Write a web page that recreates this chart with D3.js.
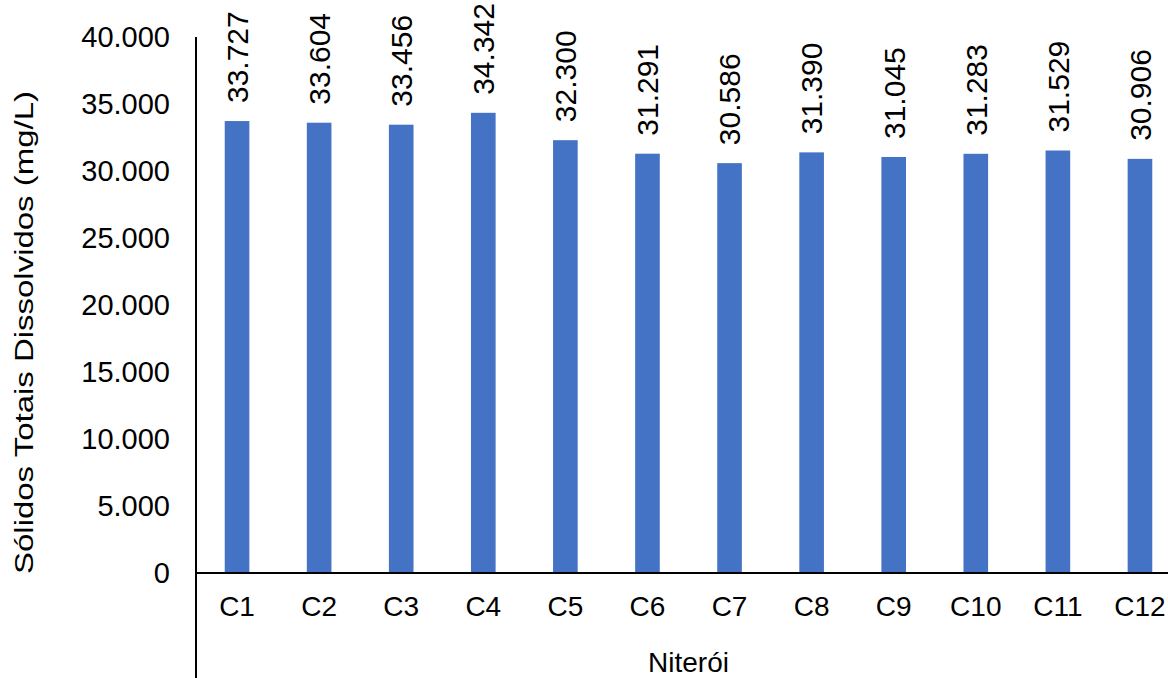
<!DOCTYPE html>
<html><head><meta charset="utf-8">
<script src="https://cdn.jsdelivr.net/npm/d3@7"></script>
<style>body{margin:0;background:#fff}svg{display:block}text{font-family:"Liberation Sans",Arial,sans-serif;fill:#000}</style>
</head><body>
<svg id="c" width="1168" height="678"></svg>
<script>
const categories = ["C1","C2","C3","C4","C5","C6","C7","C8","C9","C10","C11","C12"];
const values = [33727, 33604, 33456, 34342, 32300, 31291, 30586, 31390, 31045, 31283, 31529, 30906];
const yTicks = [0, 5000, 10000, 15000, 20000, 25000, 30000, 35000, 40000];
const yTitle = "Sólidos Totais Dissolvidos (mg/L)";
const xTitle = "Niterói";

const loc = d3.formatLocale({decimal: ",", thousands: ".", grouping: [3], currency: ["R$", ""]});
const fmt = loc.format(",d");

const svg = d3.select("#c");
const mLeft = 196, mRight = 1181, mTop = 37, mBottom = 573;

const x = d3.scaleBand().domain(categories).range([mLeft, mRight]).paddingInner(0.7).paddingOuter(0.35);
const y = d3.scaleLinear().domain([0, 40000]).range([mBottom, mTop]);

svg.append("g").selectAll("rect").data(values).join("rect")
  .attr("x", (d, i) => x(categories[i]))
  .attr("width", x.bandwidth())
  .attr("y", d => y(d))
  .attr("height", d => y(0) - y(d))
  .attr("fill", "#4472C4");

// y axis labels
const yAxis = d3.axisLeft(y).tickValues(yTicks).tickFormat(d => fmt(d)).tickSize(0).tickPadding(26);
const gy = svg.append("g").attr("transform", `translate(${mLeft},0)`).call(yAxis);
gy.select(".domain").remove();
gy.selectAll("text").style("font-size", "29px").attr("font-family", "Liberation Sans, Arial, sans-serif");

// axis lines
svg.append("line").attr("x1", mLeft).attr("x2", mLeft).attr("y1", mTop).attr("y2", 678).attr("stroke", "#000").attr("stroke-width", 2);
svg.append("line").attr("x1", mLeft).attr("x2", 1168).attr("y1", mBottom).attr("y2", mBottom).attr("stroke", "#000").attr("stroke-width", 2);

// x axis labels
const xAxis = d3.axisBottom(x).tickSize(0).tickPadding(23);
const gx = svg.append("g").attr("transform", `translate(0,${mBottom})`).call(xAxis);
gx.select(".domain").remove();
gx.selectAll("text").style("font-size", "28px").attr("font-family", "Liberation Sans, Arial, sans-serif");

// data labels
svg.append("g").selectAll("text").data(values).join("text")
  .attr("transform", (d, i) => `translate(${x(categories[i]) + x.bandwidth()/2},${y(d) - 18}) rotate(-90)`)
  .attr("dy", "0.36em")
  .attr("text-anchor", "start")
  .style("font-size", "30px")
  .text(d => fmt(d));

// titles
svg.append("text")
  .attr("transform", `translate(24,${(90 + 575)/2}) rotate(-90)`)
  .attr("text-anchor", "middle").attr("dy", "0.36em")
  .style("font-size", "25px")
  .attr("textLength", 483).attr("lengthAdjust", "spacingAndGlyphs")
  .text(yTitle);

svg.append("text")
  .attr("x", (mLeft + mRight)/2).attr("y", 672)
  .attr("text-anchor", "middle")
  .style("font-size", "28px")
  .text(xTitle);
</script>
</body></html>
